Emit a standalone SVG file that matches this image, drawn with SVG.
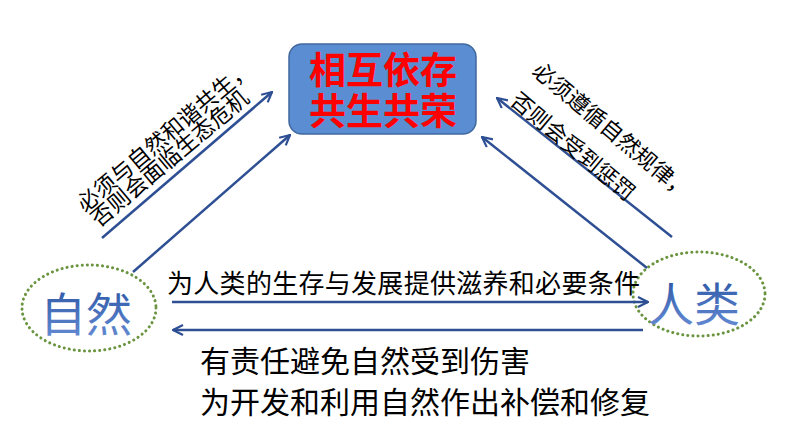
<svg xmlns="http://www.w3.org/2000/svg" width="794" height="447" viewBox="0 0 794 447">
<defs>
<marker id="ah" viewBox="0 0 12 12" markerWidth="12" markerHeight="12" refX="11" refY="6" orient="auto" markerUnits="userSpaceOnUse">
<path d="M1,1 L11,6 L1,11" fill="none" stroke="#2E4F93" stroke-width="2.2" stroke-linejoin="miter"/>
</marker>
<linearGradient id="bg" x1="0" y1="0" x2="0" y2="1">
<stop offset="0" stop-color="#244F9E"/>
<stop offset="1" stop-color="#6A90D8"/>
</linearGradient>
</defs>
<style>
.cn{font-family:"Noto Sans CJK SC","Noto Sans",sans-serif;}
.arr{stroke:#2E4F93;stroke-width:2.5;fill:none;marker-end:url(#ah);}
.ell{fill:none;stroke:#6A9440;stroke-width:3;stroke-dasharray:0.1 5;stroke-linecap:round;}
.lbl{font-size:22px;fill:#000;}
.big{font-size:46px;fill:url(#bg);}
.red{font-size:37px;font-weight:bold;fill:#FF0000;}
.blk{font-size:30px;fill:#000;}
</style>
<rect width="794" height="447" fill="#FFFFFF"/>
<g id="top">
<rect x="289" y="44" width="187" height="90" rx="13" fill="#5B8DD2" stroke="#41689E" stroke-width="1.5"/>
<text class="cn red" text-anchor="middle"><tspan x="383" y="84">相互依存</tspan><tspan x="383" y="125">共生共荣</tspan></text>
</g>
<g id="ziran">
<ellipse class="ell" cx="89" cy="308" rx="67" ry="43"/>
<text class="cn big" x="86" y="331" text-anchor="middle">自然</text>
</g>
<g id="renlei">
<ellipse class="ell" cx="699" cy="294" rx="66" ry="42"/>
<text class="cn big" x="694" y="321" text-anchor="middle">人类</text>
</g>
<g id="connectors">
<line class="arr" x1="102" y1="238" x2="272" y2="92"/>
<line class="arr" x1="133" y1="272" x2="290" y2="135"/>
<line class="arr" x1="672" y1="237" x2="497" y2="98"/>
<line class="arr" x1="647" y1="268" x2="482" y2="137"/>
<line class="arr" x1="172" y1="302" x2="648" y2="302"/>
<line class="arr" x1="643" y1="330" x2="173" y2="330"/>
</g>
<g id="labels">
<text class="cn lbl" transform="translate(85,213) rotate(-40)">必须与自然和谐共生，</text>
<text class="cn lbl" transform="translate(99,228) rotate(-40)">否则会面临生态危机</text>
<text class="cn lbl" transform="translate(531,73) rotate(40)">必须遵循自然规律，</text>
<text class="cn lbl" transform="translate(509,103) rotate(40)">否则会受到惩罚</text>
<text class="cn" x="167" y="293" font-size="26" textLength="473" lengthAdjust="spacing">为人类的生存与发展提供滋养和必要条件</text>
<text class="cn blk" x="200" y="372">有责任避免自然受到伤害</text>
<text class="cn blk" x="200" y="413">为开发和利用自然作出补偿和修复</text>
</g>
</svg>
